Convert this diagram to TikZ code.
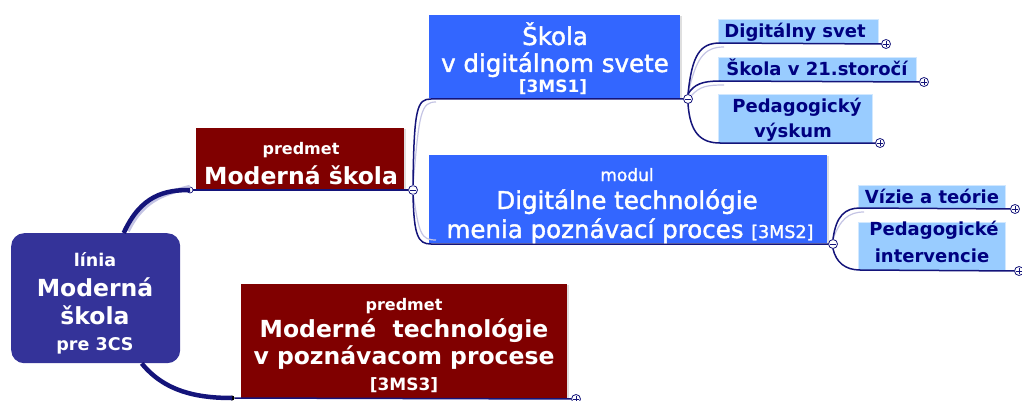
\documentclass[tikz,border=0pt]{standalone}
\usepackage{fontspec}
\setmainfont{DejaVu Sans}
\newfontfamily\wf{DejaVu Sans}
\newfontfamily\mf[FakeBold=1.6]{DejaVu Sans}
\usetikzlibrary{shadows}
\definecolor{rootc}{HTML}{343399}
\definecolor{redc}{HTML}{800000}
\definecolor{bluec}{HTML}{3366FF}
\definecolor{lightc}{HTML}{99CCFF}
\definecolor{navy}{HTML}{000080}
\definecolor{linec}{HTML}{14147A}
\definecolor{shadowc}{HTML}{C4C4E4}
\begin{document}
\begin{tikzpicture}[x=1pt,y=-1pt,
  box/.style={inner sep=0pt, anchor=north west, draw=none},
  redbox/.style={box, fill=redc, drop shadow={shadow xshift=2pt, shadow yshift=-1pt, fill=black!25, opacity=.5}},
  bluebox/.style={box, fill=bluec, drop shadow={shadow xshift=2pt, shadow yshift=-1pt, fill=black!25, opacity=.5}},
  lightbox/.style={box, fill=lightc, draw=lightc!45!white, line width=0.6pt},
  lbl/.style={anchor=base, inner sep=0pt, text=white},
  big/.style={lbl, font=\wf\bfseries\fontsize{23.5}{25}\selectfont},
  small/.style={lbl, font=\wf\bfseries\fontsize{16}{17}\selectfont},
  rsmall/.style={lbl, font=\wf\bfseries\fontsize{17.5}{17}\selectfont},
  bigr/.style={lbl, font=\mf\fontsize{24.5}{25}\selectfont},
  smallr/.style={lbl, font=\mf\fontsize{17}{17}\selectfont},
  codel/.style={lbl, font=\wf\bfseries\fontsize{17}{17}\selectfont},
  ltxt/.style={anchor=base, inner sep=0pt, text=navy, font=\bfseries\fontsize{18}{20}\selectfont},
  conn/.style={draw=linec, line width=1.5pt},
  connsh/.style={draw=shadowc, line width=1.2pt},
  thickconn/.style={draw=linec, line width=4.5pt},
  thicksh/.style={draw=shadowc, line width=4.5pt},
  knob/.style={circle, draw=linec, fill=white, line width=0.8pt, minimum size=9pt, inner sep=0pt},
  minusknob/.style={knob, path picture={\draw[linec, line width=0.8pt] ([xshift=-2.6pt]path picture bounding box.center) -- ([xshift=2.6pt]path picture bounding box.center);}},
  plusknob/.style={knob, path picture={\draw[linec, line width=0.8pt] ([xshift=-2.6pt]path picture bounding box.center) -- ([xshift=2.6pt]path picture bounding box.center) ([yshift=-2.6pt]path picture bounding box.center) -- ([yshift=2.6pt]path picture bounding box.center);}},
  openknob/.style={circle, draw=linec, fill=white, line width=0.7pt, minimum size=6pt, inner sep=0pt},
  dotknob/.style={circle, fill=black, minimum size=5pt, inner sep=0pt},
]
\useasboundingbox (0,0) rectangle (1022,401);

% ---------- boxes ----------
\node[box, fill=rootc, rounded corners=13pt, minimum width=169pt, minimum height=130pt] (root) at (11,233) {};
\node[redbox, minimum width=208pt, minimum height=62pt] (ms) at (196,128) {};
\node[bluebox, minimum width=251pt, minimum height=83pt] (s1) at (429,15) {};
\node[bluebox, minimum width=398pt, minimum height=88pt] (s2) at (429,155) {};
\node[redbox, minimum width=326pt, minimum height=114pt] (s3) at (241,284) {};
\node[lightbox, minimum width=160pt, minimum height=24pt] (l1) at (718,19) {};
\node[lightbox, minimum width=198pt, minimum height=24pt] (l2) at (718,57) {};
\node[lightbox, minimum width=154pt, minimum height=49pt] (l3) at (718,94) {};
\node[lightbox, minimum width=147pt, minimum height=23pt] (l4) at (858,185) {};
\node[lightbox, minimum width=147pt, minimum height=48pt] (l5) at (858,222) {};

% ---------- knobs ----------
\node[openknob] (rk) at (190,190) {};
\node[minusknob] (msm) at (413,190) {};
\node[minusknob] (s1m) at (688,99) {};
\node[minusknob] (s2m) at (833,244) {};
\node[plusknob] (p1) at (886,44) {};
\node[plusknob] (p2) at (924,82) {};
\node[plusknob] (p3) at (880,143) {};
\node[plusknob] (p4) at (1015,209) {};
\node[plusknob] (p5) at (1019,271) {};
\node[plusknob] (p6) at (576,399) {};
\node[dotknob] (dot) at (232,398) {};
\coordinate (s1a) at (431,99);
\coordinate (s2a) at (431,244);
\coordinate (l1a) at (720,43);
\coordinate (l2a) at (720,81);
\coordinate (l3a) at (720,143);
\coordinate (l4a) at (860,208);
\coordinate (l5a) at (860,270);

% ---------- connectors ----------
\draw[thicksh] ([xshift=32pt,yshift=2pt]root.north) .. controls (144,197) and (168,193) .. ([yshift=3pt]rk.center);
\draw[thickconn] ([xshift=28pt]root.north) .. controls (141,195) and (165,190) .. (rk.center);
\draw[thickconn] ([xshift=46pt]root.south) .. controls (165,392) and (198,398) .. (dot.center);
\draw[conn] (rk) -- (msm);
\draw[conn] (dot) -- (p6);

\draw[connsh] ([yshift=-2pt]msm.north) .. controls (419,112) and (421,102) .. (436,102);
\draw[conn] (msm.north) .. controls (414,108) and (417,99) .. (s1a) -- (s1m);
\draw[connsh] ([yshift=2pt]msm.south) .. controls (419,234) and (421,240) .. (436,240);
\draw[conn] (msm.south) .. controls (414,236) and (418,244) .. (s2a) -- (s2m);

\draw[connsh] (s1m.north) .. controls (696,58) and (704,47) .. (724,47);
\draw[conn] (s1m.north) .. controls (692,55) and (700,43) .. (l1a) -- (p1);
\draw[connsh] (s1m.north east) .. controls (700,86) and (708,85) .. (724,85);
\draw[conn] (s1m.north) .. controls (694,84) and (703,81) .. (l2a) -- (p2);
\draw[conn] (s1m.south) .. controls (690,132) and (700,143) .. (l3a) -- (p3);
\draw[connsh] (s2m.north) .. controls (840,220) and (848,212) .. (864,212);
\draw[conn] (s2m.north) .. controls (836,216) and (845,208) .. (l4a) -- (p4);
\draw[conn] (s2m.south) .. controls (836,262) and (845,270) .. (l5a) -- (p5);

% ---------- texts ----------
\node[rsmall] (rt1) at (95,266) {línia};
\node[big] (rt2) at (95,296) {Moderná};
\node[big] (rt3) at (95,324) {škola};
\node[rsmall] (rt4) at (95,350) {pre 3CS};

\node[small] (mt1) at (301,154) {predmet};
\node[big] (mt2) at (301,184) {Moderná škola};

\node[bigr] (st1) at (555,45) {Škola};
\node[bigr] (st2) at (555,72) {v digitálnom svete};
\node[codel] (st3) at (553,93) {[3MS1]};

\node[smallr] (dt1) at (627,181) {modul};
\node[bigr] (dt2) at (627,209) {Digitálne technológie};
\node[bigr] (dt3) at (630,238) {menia poznávací proces {\fontsize{17.5}{17}\selectfont[3MS2]}};

\node[small] (tt1) at (404,310) {predmet};
\node[big] (tt2) at (404,337) {Moderné\ \ technológie};
\node[big] (tt3) at (404,364) {v poznávacom procese};
\node[codel] (tt4) at (404,390) {[3MS3]};

\node[ltxt] (lt1) at (795,38) {Digitálny svet};
\node[ltxt] (lt2) at (817,76) {Škola v 21.storočí};
\node[ltxt] (lt3) at (797,113) {Pedagogický};
\node[ltxt] (lt4) at (793,137) {výskum};
\node[ltxt] (lt5) at (932,203) {Vízie a teórie};
\node[ltxt] (lt6) at (934,235) {Pedagogické};
\node[ltxt] (lt7) at (932,262) {intervencie};
\end{tikzpicture}
\end{document}
